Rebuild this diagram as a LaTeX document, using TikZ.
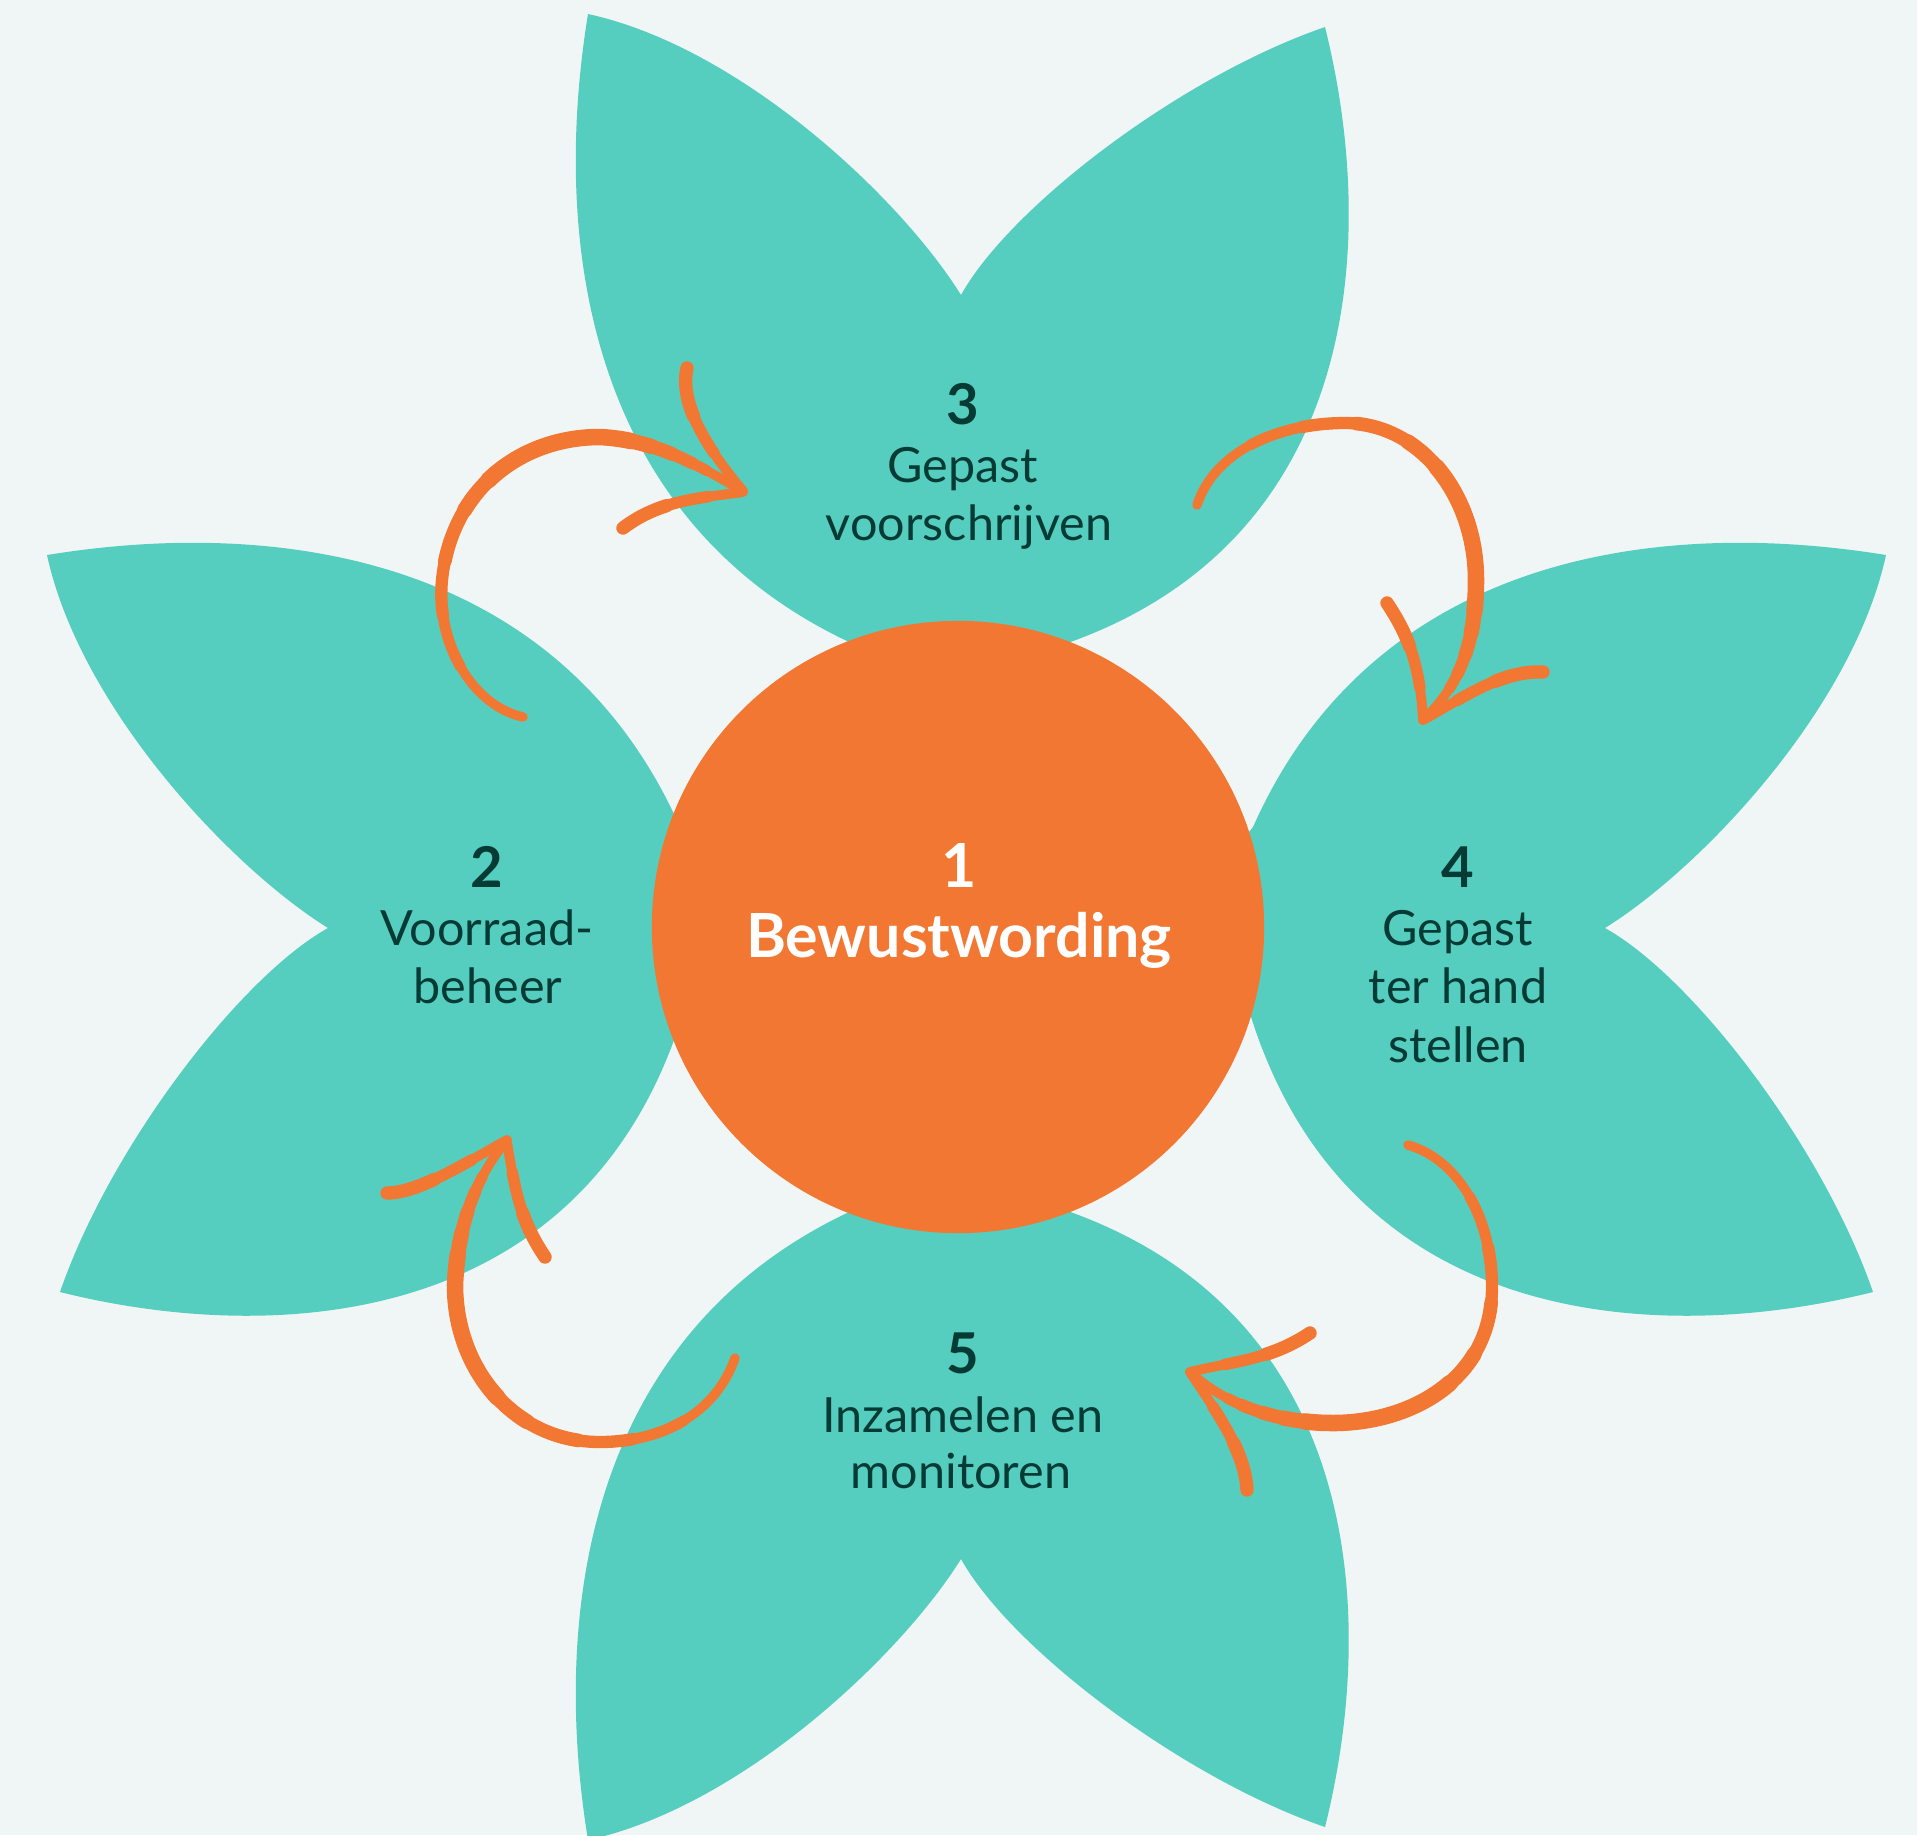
\documentclass[tikz,border=0pt]{standalone}
\usepackage{fontspec}
\setmainfont{Lato}
\definecolor{bgc}{HTML}{F0F6F5}
\definecolor{petal}{HTML}{55CEC0}
\definecolor{accent}{HTML}{F27732}
\definecolor{ink}{HTML}{063B35}
\def\petalpath{(1,-632) .. controls (-60,-730) and (-220,-880) .. (-372,-913)
  .. controls (-410,-680) and (-370,-400) .. (-100,-280) -- (0,-200) -- (80,-275)
  .. controls (400,-370) and (420,-680) .. (365,-900)
  .. controls (220,-850) and (50,-720) .. (1,-632) -- cycle}
% tapered main stroke (thicker towards the head side)
\newcommand\taperstroke[1]{%
  \draw[arr,line width=2.7pt] #1;
  \draw[arr,line width=3.1pt,dash pattern=on 124.8pt off 3000pt,dash phase=3101.4pt] #1;
  \draw[arr,line width=3.5pt,dash pattern=on 104.5pt off 3000pt,dash phase=3065.5pt] #1;
  \draw[arr,line width=3.9pt,dash pattern=on 82.7pt off 3000pt,dash phase=3028.1pt] #1;
  \draw[arr,line width=4.3pt,dash pattern=on 60.8pt off 3000pt,dash phase=2990.6pt] #1;
  \draw[arr,line width=4.7pt,dash pattern=on 43.7pt off 3000pt,dash phase=2962.6pt] #1;}
% barb: thicker at its free end (path starts at the free end)
\newcommand\barbstroke[1]{%
  \draw[arr,line width=2.8pt] #1;
  \draw[arr,line width=3.3pt,dash pattern=on 26pt off 3000pt] #1;
  \draw[arr,line width=3.8pt,dash pattern=on 14pt off 3000pt] #1;}
\begin{document}
\begin{tikzpicture}[x=0.01cm,y=-0.01cm,
  arr/.style={draw=accent,line cap=round,line join=round},
  numlbl/.style={font=\fontsize{16}{19}\selectfont\bfseries,text=ink,anchor=base,inner sep=0pt},
  txtlbl/.style={font=\fontsize{13.8}{16}\selectfont,text=ink,anchor=base,inner sep=0pt},
  ctrlbl/.style={font=\fontsize{17.3}{20}\selectfont\bfseries,text=white,anchor=base,inner sep=0pt}]
\useasboundingbox (0,0) rectangle (1917,1835);
\fill[bgc] (0,0) rectangle (1917,1835);
% petals
\begin{scope}[shift={(960,927)}]\fill[petal] \petalpath;\end{scope}
\begin{scope}[shift={(960,927)},rotate=90,xscale=-1]\fill[petal] \petalpath;\end{scope}
\begin{scope}[shift={(960,927)},yscale=-1]\fill[petal] \petalpath;\end{scope}
\begin{scope}[shift={(973,927)},rotate=-90]\fill[petal] \petalpath;\end{scope}
% centre
\fill[accent] (958,927) circle[radius=3.06cm];
% arrow 2 -> 3
\taperstroke{(523,717) .. controls (470,705) and (436,640) .. (442,580)
  .. controls (451,490) and (520,437) .. (600,437)
  .. controls (660,440) and (705,470) .. (743,491)}
\barbstroke{(687,368) .. controls (680,400) and (700,440) .. (743,491)}
\barbstroke{(623,528) .. controls (660,500) and (700,498) .. (743,492)}
% arrow 3 -> 4
\taperstroke{(1197,505) .. controls (1215,450) and (1280,423) .. (1345,423)
  .. controls (1420,423) and (1476,495) .. (1476,580)
  .. controls (1476,650) and (1455,690) .. (1423,720)}
\barbstroke{(1387,603) .. controls (1405,630) and (1420,660) .. (1423,720)}
\barbstroke{(1543,672) .. controls (1500,670) and (1460,700) .. (1423,720)}
% arrow 4 -> 5
\taperstroke{(1408,1145) .. controls (1460,1160) and (1492,1220) .. (1492,1287)
  .. controls (1492,1380) and (1410,1423) .. (1333,1423)
  .. controls (1270,1423) and (1220,1400) .. (1190,1372)}
\barbstroke{(1310,1333) .. controls (1270,1360) and (1230,1362) .. (1190,1372)}
\barbstroke{(1247,1490) .. controls (1245,1450) and (1215,1410) .. (1190,1372)}
% arrow 5 -> 2
\taperstroke{(735,1358) .. controls (715,1415) and (660,1442) .. (600,1442)
  .. controls (515,1442) and (455,1370) .. (455,1285)
  .. controls (458,1215) and (482,1170) .. (507,1140)}
\barbstroke{(387,1193) .. controls (420,1193) and (470,1160) .. (507,1140)}
\barbstroke{(545,1257) .. controls (520,1220) and (515,1190) .. (507,1142)}
% labels
\node[ctrlbl] (c1) at (959,887) {1};
\node[ctrlbl] (c2) at (959,957) {Bewustwording};
\node[numlbl] (a1) at (487,887) {2};
\node[txtlbl] (a2) at (487,945) {Voorraad-};
\node[txtlbl] (a3) at (488,1003) {beheer};
\node[numlbl] (b1) at (963,424) {3};
\node[txtlbl] (b2) at (963,482) {Gepast};
\node[txtlbl] (b3) at (969,540) {voorschrijven};
\node[numlbl] (d1) at (1458,887) {4};
\node[txtlbl] (d2) at (1458,945) {Gepast};
\node[txtlbl] (d3) at (1458,1003) {ter hand};
\node[txtlbl] (d4) at (1458,1062) {stellen};
\node[numlbl] (e1) at (963,1373) {5};
\node[txtlbl] (e2) at (963,1432) {Inzamelen en};
\node[txtlbl] (e3) at (961,1488) {monitoren};
\end{tikzpicture}
\end{document}
